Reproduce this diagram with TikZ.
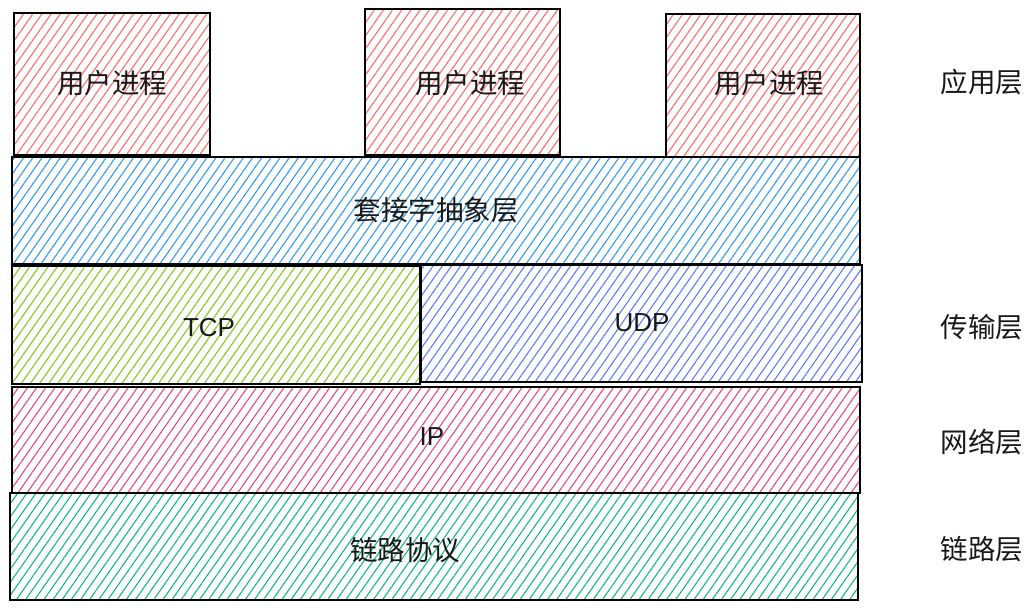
\documentclass[tikz,border=0pt]{standalone}
\usepackage{fontspec}
\setmainfont{Liberation Sans}
\newfontfamily\cjk{Noto Sans CJK SC}
\usetikzlibrary{patterns.meta}
\definecolor{cred}{HTML}{FF6B6B}
\definecolor{cblue}{HTML}{339AF0}
\definecolor{cgreen}{HTML}{82C91E}
\definecolor{cindigo}{HTML}{5C7CFA}
\definecolor{cpink}{HTML}{E64980}
\definecolor{cteal}{HTML}{12B886}
\tikzset{
  layer/.style={draw=black, line width=2pt, inner sep=0pt, outer sep=0pt},
  hatch/.style={pattern={Lines[angle=55,distance=7.5pt,line width=1.1pt]}, pattern color=#1},
  zh/.style={font=\cjk\fontsize{27.5}{32}\selectfont, text=black!90},
  en/.style={font=\fontsize{26}{30}\selectfont, text=black!90},
}
\begin{document}
\begin{tikzpicture}[x=1pt,y=-1pt]
\useasboundingbox (0,0) rectangle (1035,610);
% boxes: fills
\path[hatch=cred] (14,13) rectangle (210,155);
\path[hatch=cred] (365,9) rectangle (560,155);
\path[hatch=cred] (666,14) rectangle (860,157);
\path[hatch=cblue] (12,157) rectangle (860,264);
\path[hatch=cgreen] (12,266) rectangle (420,384);
\path[hatch=cindigo] (421,265) rectangle (862,382);
\path[hatch=cpink] (12,387) rectangle (860,493);
\path[hatch=cteal] (10,493) rectangle (858,600);
% borders as named nodes
\node[layer, minimum width=196pt, minimum height=142pt] (p1) at (112,84) {};
\node[layer, minimum width=195pt, minimum height=146pt] (p2) at (462.5,82) {};
\node[layer, minimum width=194pt, minimum height=143pt] (p3) at (763,85.5) {};
\node[layer, minimum width=848pt, minimum height=107pt] (sock) at (436,210.5) {};
\node[layer, minimum width=408pt, minimum height=118pt] (tcp) at (216,325) {};
\node[layer, minimum width=441pt, minimum height=117pt] (udp) at (641.5,323.5) {};
\node[layer, minimum width=848pt, minimum height=106pt] (ip) at (436,440) {};
\node[layer, minimum width=848pt, minimum height=107pt] (link) at (434,546.5) {};
% texts
\node[zh] (t1) at (112,83) {用户进程};
\node[zh] (t2) at (470,83) {用户进程};
\node[zh] (t3) at (769,83) {用户进程};
\node[zh] (t4) at (436,210) {套接字抽象层};
\node[en] (t5) at (209,328) {TCP};
\node[en] (t6) at (642,323) {UDP};
\node[en] (t7) at (432,437) {IP};
\node[zh] (t8) at (405,550) {链路协议};
\node[zh] (r1) at (982,82) {应用层};
\node[zh] (r2) at (982,327) {传输层};
\node[zh] (r3) at (982,442) {网络层};
\node[zh] (r4) at (982,549) {链路层};
\end{tikzpicture}
\end{document}
